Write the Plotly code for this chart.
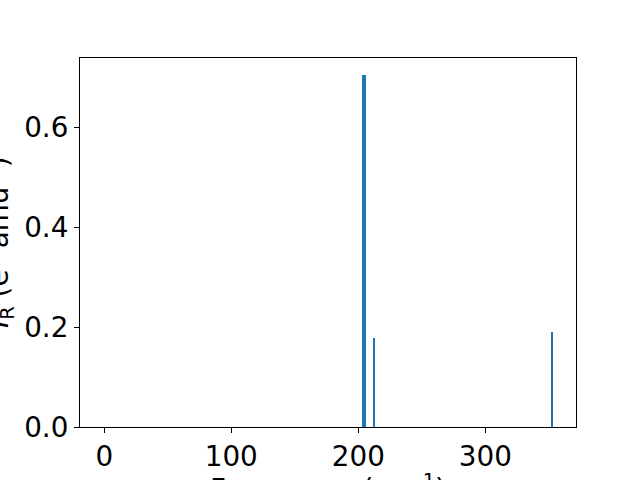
import plotly.graph_objects as go

frequencies = [204.2, 212.2, 352.5]
intensities = [0.705, 0.178, 0.190]
x_ticks = [0, 100, 200, 300]
y_ticks = [0.0, 0.2, 0.4, 0.6]
y_tick_labels = ["0.0", "0.2", "0.4", "0.6"]

fig = go.Figure()
fig.add_trace(go.Bar(
    x=frequencies, y=intensities,
    width=[3.1, 1.6, 1.6],
    marker=dict(color="#1f77b4", line=dict(width=0)),
))

font = dict(family="DejaVu Sans", size=27.8, color="black")
L, R, T, B = 80, 64, 58, 53
W, H = 640, 480
pw, ph = W - L - R, H - T - B

fig.update_layout(
    width=W, height=H,
    margin=dict(l=L, r=R, t=T, b=B, autoexpand=False),
    paper_bgcolor="white", plot_bgcolor="white",
    showlegend=False, bargap=0,
    font=font,
)
fig.update_xaxes(
    range=[-19.1, 371.4], tickmode="array", tickvals=x_ticks,
    ticks="outside", ticklen=5, tickwidth=1.1, tickcolor="black",
    showline=True, linecolor="black", linewidth=1.1, mirror=True,
    showgrid=False, zeroline=False, tickfont=font,
    automargin=False,
)
fig.update_yaxes(
    range=[0, 0.739], tickmode="array", tickvals=y_ticks, ticktext=y_tick_labels,
    ticks="outside", ticklen=5, tickwidth=1.1, tickcolor="black",
    showline=True, linecolor="black", linewidth=1.1, mirror=True,
    showgrid=False, zeroline=False, tickfont=font,
    automargin=False,
)
fig.add_annotation(
    text="Frequency (cm<sup>-1</sup>)", xref="paper", yref="paper",
    x=0.5, y=(T + ph - 467) / ph, xanchor="center", yanchor="top",
    showarrow=False, font=font,
)
fig.add_annotation(
    text="<i>I</i><sub>R</sub> (e<sup>2</sup> amu<sup>-1</sup>)", xref="paper", yref="paper",
    x=(21 - L) / pw, y=0.5, xanchor="right", yanchor="middle", textangle=-90,
    showarrow=False, font=font,
)
fig.write_html(
    "out.html",
    config={"displayModeBar": False},
    post_script="document.body.style.margin='0';document.body.style.overflow='hidden';",
)
